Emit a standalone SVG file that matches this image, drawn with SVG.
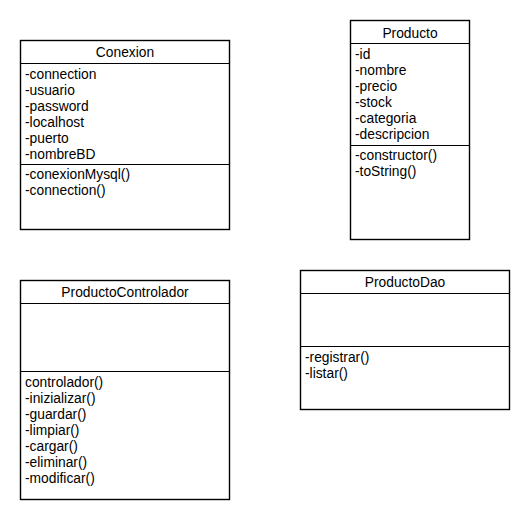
<svg xmlns="http://www.w3.org/2000/svg" width="530" height="520" viewBox="0 0 530 520">
<style>
.box{fill:#fff;stroke:#000;stroke-width:1.4}
.ln{stroke:#000;stroke-width:1.2}
text{font-family:"Liberation Sans",Arial,sans-serif;font-size:13.8px;fill:#000}
.t{text-anchor:middle}
</style>
<rect width="530" height="520" fill="#fff"/>
<g id="Conexion">
<rect class="box" x="20.5" y="40.5" width="209" height="189"/>
<line class="ln" x1="20.5" y1="63.5" x2="229.5" y2="63.5"/>
<line class="ln" x1="20.5" y1="164.5" x2="229.5" y2="164.5"/>
<text class="t" x="125" y="57">Conexion</text>
<text x="25" y="79">-connection</text>
<text x="25" y="95">-usuario</text>
<text x="25" y="111">-password</text>
<text x="25" y="127">-localhost</text>
<text x="25" y="143">-puerto</text>
<text x="25" y="159">-nombreBD</text>
<text x="25" y="179">-conexionMysql()</text>
<text x="25" y="195">-connection()</text>
</g>
<g id="Producto">
<rect class="box" x="350.5" y="20.5" width="119" height="219"/>
<line class="ln" x1="350.5" y1="43.5" x2="469.5" y2="43.5"/>
<line class="ln" x1="350.5" y1="145.5" x2="469.5" y2="145.5"/>
<text class="t" x="410" y="38">Producto</text>
<text x="355" y="59">-id</text>
<text x="355" y="75">-nombre</text>
<text x="355" y="91">-precio</text>
<text x="355" y="107">-stock</text>
<text x="355" y="123">-categoria</text>
<text x="355" y="139">-descripcion</text>
<text x="355" y="160">-constructor()</text>
<text x="355" y="176">-toString()</text>
</g>
<g id="ProductoControlador">
<rect class="box" x="20.5" y="280.5" width="209" height="219"/>
<line class="ln" x1="20.5" y1="303.5" x2="229.5" y2="303.5"/>
<line class="ln" x1="20.5" y1="371.5" x2="229.5" y2="371.5"/>
<text class="t" x="125" y="297">ProductoControlador</text>
<text x="25" y="387">controlador()</text>
<text x="25" y="403">-inizializar()</text>
<text x="25" y="419">-guardar()</text>
<text x="25" y="435">-limpiar()</text>
<text x="25" y="451">-cargar()</text>
<text x="25" y="467">-eliminar()</text>
<text x="25" y="483">-modificar()</text>
</g>
<g id="ProductoDao">
<rect class="box" x="300.5" y="270.5" width="209" height="139"/>
<line class="ln" x1="300.5" y1="293.5" x2="509.5" y2="293.5"/>
<line class="ln" x1="300.5" y1="346.5" x2="509.5" y2="346.5"/>
<text class="t" x="405" y="287">ProductoDao</text>
<text x="305" y="362">-registrar()</text>
<text x="305" y="378">-listar()</text>
</g>
<g id="connectors"/>
</svg>
